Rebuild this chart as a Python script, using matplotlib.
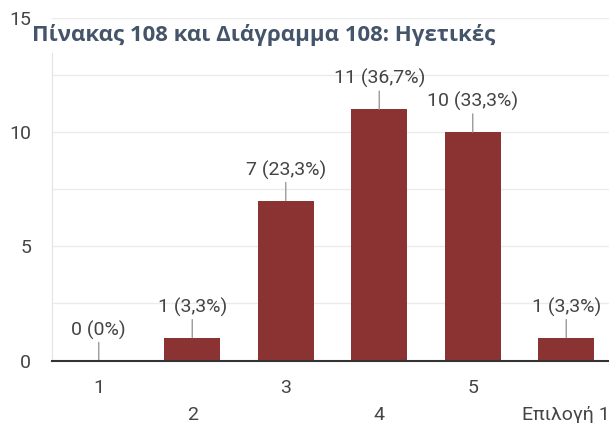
import matplotlib.pyplot as plt

# answer counts per option
categories = ['1', '2', '3', '4', '5', 'Επιλογή 1']
counts = [0, 1, 7, 11, 10, 1]
labels = ['0 (0%)', '1 (3,3%)', '7 (23,3%)', '11 (36,7%)', '10 (33,3%)', '1 (3,3%)']
y_ticks = [0, 5, 10, 15]
grid_steps = [2.5, 5, 7.5, 10, 12.5, 15]

bar_color = '#8b3333'
text_color = '#444444'

W, H = 609, 423
fig = plt.figure(figsize=(W / 100, H / 100), dpi=100)
# plot area in pixels: left edge 52, baseline 360.5, 93.5 px per category
ax = fig.add_axes([52 / W, 1 - 360.5 / H, 561 / W, 342.75 / H])

x = list(range(len(categories)))
ax.bar(x, counts, width=0.6, color=bar_color, zorder=2)

for xi, val, lab in zip(x, counts, labels):
    ax.annotate(lab, xy=(xi, val), xytext=(0, 15), textcoords='offset points',
                ha='center', va='bottom', fontsize=14, family='Roboto',
                color=text_color,
                arrowprops=dict(arrowstyle='-', color='#9a9a9a', lw=1,
                                shrinkA=0, shrinkB=0))

ax.set_xlim(-0.5, 5.5)
ax.set_ylim(0, 15)
ax.set_yticks(y_ticks)
for g in grid_steps:
    ax.axhline(g, color='#ebebeb', lw=1, zorder=0)

# staggered category labels: odd positions on the first row, even on the second
ax.set_xticks(x[::2], categories[::2])
ax.set_xticks(x[1::2], categories[1::2], minor=True)
ax.tick_params(axis='x', which='major', length=0, pad=13)
ax.tick_params(axis='x', which='minor', length=0, pad=32.5)
ax.tick_params(axis='y', length=0, pad=15)
for lab in ax.get_xticklabels(which='both') + ax.get_yticklabels():
    lab.set_family('Roboto')
    lab.set_fontsize(14)
    lab.set_color(text_color)

for side in ['right', 'top']:
    ax.spines[side].set_visible(False)
ax.spines['left'].set_color('#e3e3e3')
ax.spines['left'].set_bounds(0, 13.45)
ax.spines['bottom'].set_color('#333333')
ax.spines['bottom'].set_linewidth(1.5)
ax.spines['bottom'].set_zorder(3)

fig.text(32 / W, 1 - 41 / H, 'Πίνακας 108 και Διάγραμμα 108: Ηγετικές',
         fontsize=16, fontweight='bold', family='Open Sans', color='#44546a',
         ha='left', va='baseline')

fig.savefig('out.png', dpi=100)
